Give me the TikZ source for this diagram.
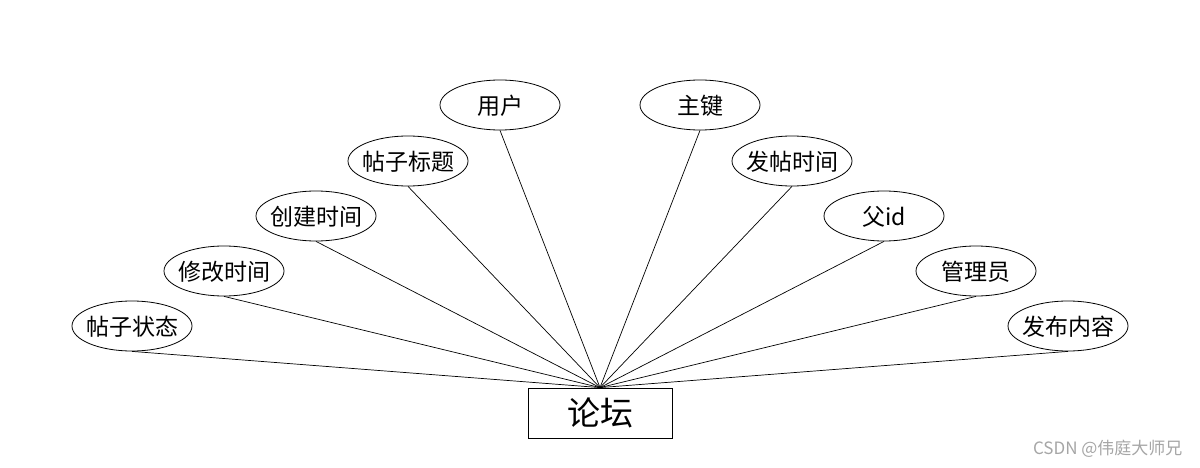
\documentclass[tikz,border=0pt]{standalone}
\usepackage{fontspec}
\setmainfont{Noto Sans CJK SC}
\usetikzlibrary{shapes.geometric}
\newcommand{\zw}[1]{\makebox[0pt][c]{\raisebox{-9.5pt}[0pt][0pt]{#1}}}
\begin{document}
\begin{tikzpicture}[x=1pt,y=-1pt,
  attr/.style={draw,ellipse,line width=0.8pt,minimum width=120pt,minimum height=50pt,inner sep=0pt,font=\fontsize{23}{23}\selectfont},
  ent/.style={draw,rectangle,line width=0.8pt,minimum width=144pt,minimum height=50pt,inner sep=0pt,font=\fontsize{33}{33}\selectfont},
  link/.style={line width=0.7pt}]
\useasboundingbox[fill=white] (0,0) rectangle (1200,468);
\node[ent] (forum) at (600,413) {论坛};
\node[attr] (a1) at (500,105) {\zw{用户}};
\node[attr] (a2) at (700,105) {\zw{主键}};
\node[attr] (a3) at (408,161) {\zw{帖子标题}};
\node[attr] (a4) at (792,161) {\zw{发帖时间}};
\node[attr] (a5) at (316,216) {\zw{创建时间}};
\node[attr] (a6) at (884,216) {\zw{父id}};
\node[attr] (a7) at (224,271) {\zw{修改时间}};
\node[attr] (a8) at (976,271) {\zw{管理员}};
\node[attr] (a9) at (132,326) {\zw{帖子状态}};
\node[attr] (a10) at (1068,326) {\zw{发布内容}};
\foreach \n in {a1,a2,a3,a4,a5,a6,a7,a8,a9,a10}
  \draw[link] (\n.south) -- (forum.north);
\node[text=gray!70,font=\fontsize{17}{17}\selectfont,anchor=east] (wm) at (1186,449) {CSDN @伟庭大师兄};
\end{tikzpicture}
\end{document}
